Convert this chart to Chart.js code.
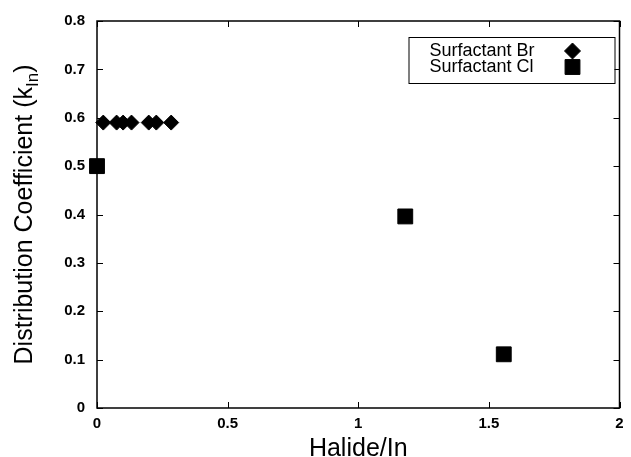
<!DOCTYPE html>
<html>
<head>
<meta charset="utf-8">
<script src="https://cdn.jsdelivr.net/npm/chart.js@4.4.1/dist/chart.umd.min.js"></script>
<style>
html, body { margin: 0; padding: 0; background: #fff; }
</style>
</head>
<body>
<canvas id="myChart" width="631" height="457"></canvas>
<script>
// data
var seriesNames = ["Surfactant Br", "Surfactant Cl"];
var brX = [0.024, 0.075, 0.1, 0.132, 0.198, 0.227, 0.284];
var brY = [0.59, 0.59, 0.59, 0.59, 0.59, 0.59, 0.59];
var clX = [0, 1.18, 1.557];
var clY = [0.5, 0.396, 0.111];

var xTicks = [0, 0.5, 1, 1.5, 2];
var xTickLabels = ["0", "0.5", "1", "1.5", "2"];
var yTicks = [0, 0.1, 0.2, 0.3, 0.4, 0.5, 0.6, 0.7, 0.8];
var yTickLabels = ["0", "0.1", "0.2", "0.3", "0.4", "0.5", "0.6", "0.7", "0.8"];

var xTitle = "Halide/In";
var yTitleMain = "Distribution Coefficient (k";
var yTitleSub = "In";
var yTitleEnd = ")";

var fontFam = "'Liberation Sans', Arial, Helvetica, sans-serif";

function pts(xs, ys) {
  var out = [];
  for (var i = 0; i < xs.length; i++) out.push({x: xs[i], y: ys[i]});
  return out;
}

// frame + inward ticks, drawn under the points
var framePlugin = {
  id: 'frame',
  beforeDatasetsDraw: function(chart) {
    var ctx = chart.ctx, a = chart.chartArea;
    var xs = chart.scales.x, ys = chart.scales.y;
    var tl = 6;
    ctx.save();
    ctx.strokeStyle = '#000';
    ctx.lineWidth = 1;
    ctx.beginPath();
    xTicks.forEach(function(v) {
      var px = Math.round(xs.getPixelForValue(v)) + 0.5;
      ctx.moveTo(px, a.bottom); ctx.lineTo(px, a.bottom - tl);
      ctx.moveTo(px, a.top); ctx.lineTo(px, a.top + tl);
    });
    yTicks.forEach(function(v) {
      var py = Math.round(ys.getPixelForValue(v)) + 0.5;
      ctx.moveTo(a.left, py); ctx.lineTo(a.left + tl, py);
      ctx.moveTo(a.right, py); ctx.lineTo(a.right - tl, py);
    });
    ctx.stroke();
    ctx.lineWidth = 1.5;
    ctx.strokeRect(a.left, a.top, a.right - a.left, a.bottom - a.top);
    ctx.restore();
  },
  afterDraw: function(chart) {
    var ctx = chart.ctx, a = chart.chartArea;
    ctx.save();

    // y title with subscript
    ctx.translate(32, (a.top + a.bottom) / 2);
    ctx.rotate(-Math.PI / 2);
    ctx.fillStyle = '#000';
    ctx.textBaseline = 'alphabetic';
    ctx.textAlign = 'left';
    var mainFont = "25px " + fontFam, subFont = "17px " + fontFam;
    ctx.font = mainFont;
    var w1 = ctx.measureText(yTitleMain).width;
    var w3 = ctx.measureText(yTitleEnd).width;
    ctx.font = subFont;
    var w2 = ctx.measureText(yTitleSub).width;
    var x0 = -(w1 + w2 + w3) / 2;
    ctx.font = mainFont;
    ctx.fillText(yTitleMain, x0, 0);
    ctx.font = subFont;
    ctx.fillText(yTitleSub, x0 + w1, 6);
    ctx.font = mainFont;
    ctx.fillText(yTitleEnd, x0 + w1 + w2, 0);
    ctx.restore();

    // legend box inside the plot, marker right of the text
    ctx.save();
    var bx = a.right - 211, by = a.top + 16, bw = 206, bh = 46;
    ctx.fillStyle = '#fff';
    ctx.fillRect(bx, by, bw, bh);
    ctx.strokeStyle = '#000';
    ctx.lineWidth = 1;
    ctx.strokeRect(bx + 0.5, by + 0.5, bw, bh);
    ctx.font = "18px " + fontFam;
    ctx.textBaseline = 'middle';
    ctx.textAlign = 'left';
    chart.data.datasets.forEach(function(ds, i) {
      var ry = by + 14 + i * 16;
      ctx.fillStyle = '#000';
      ctx.fillText(ds.label, bx + 21, ry);
      ctx.strokeStyle = '#000';
      Chart.helpers.drawPoint(ctx, {
        pointStyle: ds.pointStyle,
        radius: ds.pointStyle === 'rect' ? 10.5 : 8,
        rotation: 0,
        borderWidth: 1
      }, bx + 164, ry);
    });
    ctx.restore();
  }
};

var ctx = document.getElementById("myChart");
var myChart = new Chart(ctx, {
  type: 'scatter',
  data: {
    datasets: [{
      label: seriesNames[0],
      data: pts(brX, brY),
      pointStyle: 'rectRot',
      pointRadius: 7.5,
      backgroundColor: '#000',
      borderColor: '#000',
      borderWidth: 1,
      clip: false
    }, {
      label: seriesNames[1],
      data: pts(clX, clY),
      pointStyle: 'rect',
      pointRadius: 10.5,
      backgroundColor: '#000',
      borderColor: '#000',
      borderWidth: 1,
      clip: false
    }]
  },
  options: {
    responsive: false,
    animation: false,
    layout: { padding: { top: 18, right: 8, left: 0, bottom: 0 } },
    plugins: {
      legend: { display: false },
      tooltip: { enabled: false }
    },
    scales: {
      x: {
        type: 'linear',
        min: 0,
        max: 2,
        afterBuildTicks: function(s) {
          s.ticks = xTicks.map(function(v) { return {value: v}; });
        },
        afterFit: function(s) { s.height = 49; },
        ticks: {
          autoSkip: false,
          maxRotation: 0,
          padding: 7,
          color: '#000',
          font: { family: fontFam, size: 15, weight: 'bold' },
          callback: function(v, i) { return xTickLabels[i]; }
        },
        grid: { display: false, drawTicks: false },
        border: { display: false },
        title: {
          display: true,
          text: xTitle,
          color: '#000',
          font: { family: fontFam, size: 25, lineHeight: 0.6 },
          padding: 0
        }
      },
      y: {
        type: 'linear',
        min: 0,
        max: 0.8,
        afterBuildTicks: function(s) {
          s.ticks = yTicks.map(function(v) { return {value: v}; });
        },
        afterFit: function(s) { s.width = 97; },
        ticks: {
          autoSkip: false,
          padding: 12,
          color: '#000',
          font: { family: fontFam, size: 15, weight: 'bold' },
          callback: function(v, i) { return yTickLabels[i]; }
        },
        grid: { display: false, drawTicks: false },
        border: { display: false }
      }
    }
  },
  plugins: [framePlugin]
});
</script>
</body>
</html>
